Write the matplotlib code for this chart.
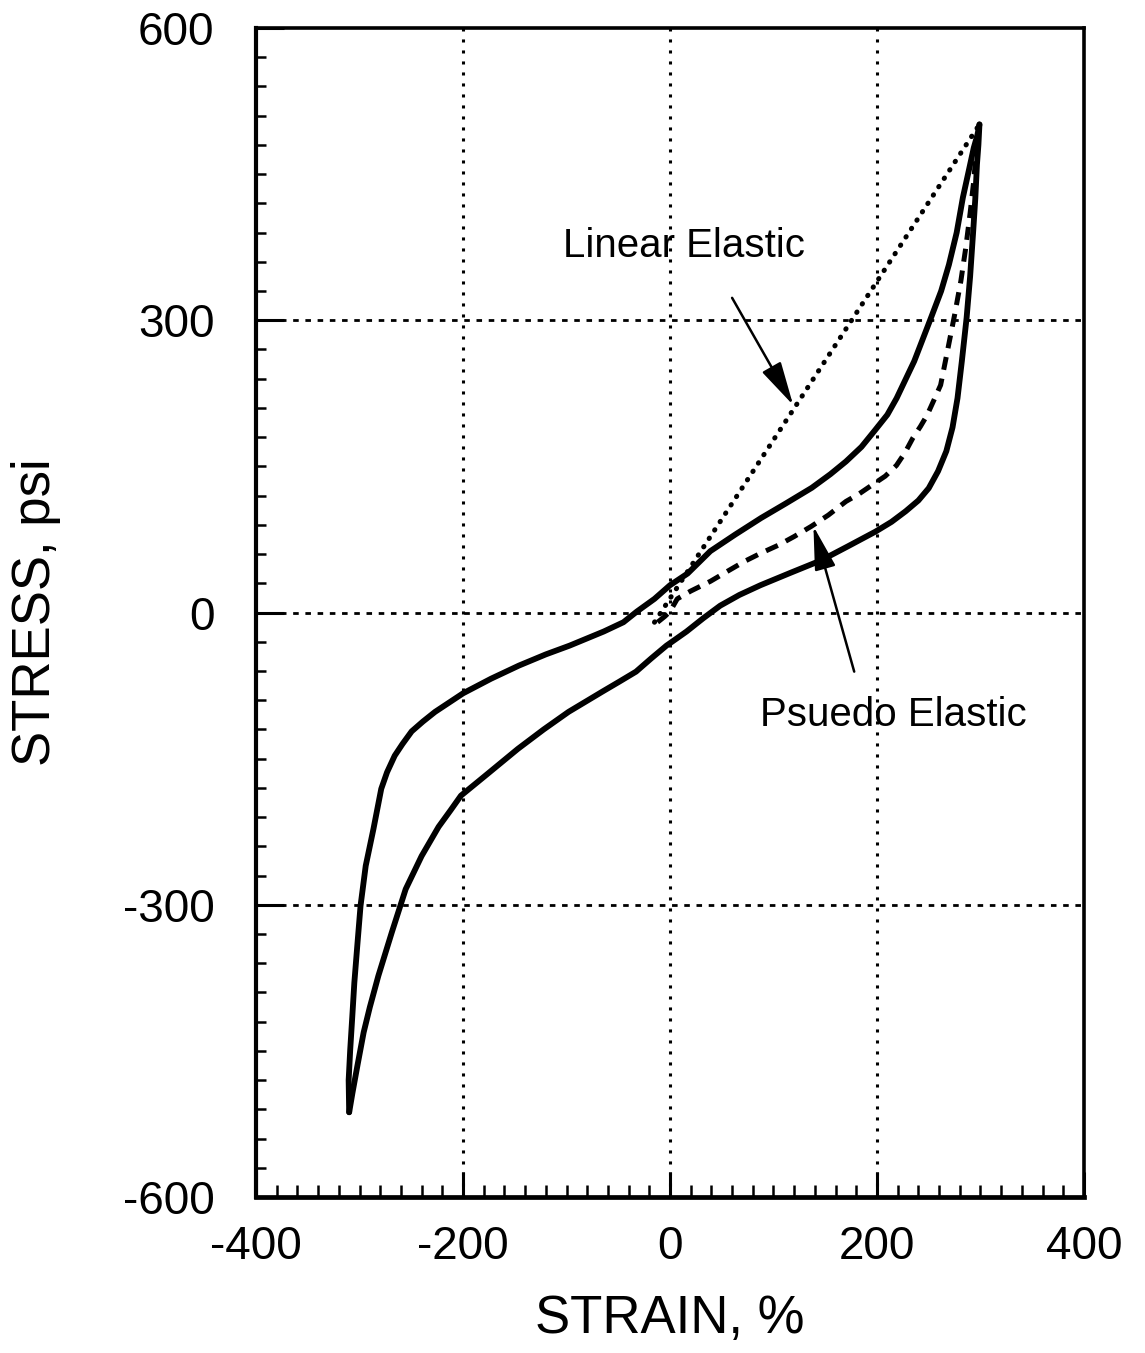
import matplotlib
matplotlib.use("Agg")
import matplotlib.pyplot as plt
from matplotlib.ticker import MultipleLocator, FixedLocator

plt.rcParams['font.family'] = ['Liberation Sans', 'DejaVu Sans']
plt.rcParams['axes.unicode_minus'] = False

# ---- data ----
upper_strain = [-310, -310.5, -309, -307, -305, -302, -299, -294, -286.5, -279, -273.4, -266,
                -258.5, -249.6, -238.8, -227, -200, -173, -146, -120, -97, -64, -45, -32,
                -15, 0, 17, 39, 63, 88, 112, 137, 155, 170, 185, 198, 210, 219, 236, 252,
                262, 269.5, 277, 283, 289, 293.5, 297, 299]
upper_stress = [-513, -480, -449, -415, -380, -340, -301, -260, -222, -181, -164, -147,
                -135, -122, -112, -102, -83, -68, -54.5, -43, -34, -19.5, -10, 1,
                14, 28, 40, 63, 80, 97, 112, 128, 142, 155, 170, 187, 203, 220, 258, 302,
                330, 357, 390, 426, 455, 477, 490, 501]

lower_strain = [299, 298, 296.6, 295, 293, 290, 286.6, 282, 277.8, 273, 267, 259, 250, 240,
                227.8, 214, 198.5, 172, 146, 117, 87.4, 67, 48.5, 32, 16, 6, -3.4, -18,
                -32.8, -49, -65, -98, -122, -147, -179, -202, -212, -223.6, -240, -255.4,
                -268.7, -281.8, -290, -296, -302, -306.8, -310]
lower_stress = [501, 480, 460, 425, 392, 345, 302.5, 258, 220, 190, 165.6, 145, 127.6, 115,
                104, 93, 83, 68, 53.5, 41, 28, 18, 7, -6, -19.5, -27, -34, -47,
                -60.7, -71, -81, -102, -120, -140, -168, -188, -203, -220, -250, -284,
                -328, -373, -405, -431, -465, -493, -513]

pseudo_strain = [-12, -5, 0, 7, 20, 39, 55, 72, 88, 104.5, 120, 136.6, 153, 170, 183, 195,
                 208, 218.8, 227, 234.6, 242, 248.5, 255, 261.5, 268, 275, 281, 285.8, 290,
                 293.5, 297, 299]
pseudo_stress = [-10, -4, 1, 14, 22, 32, 42, 52.5, 61, 69, 78, 88.5, 100, 114, 122, 130.7,
                 140, 151, 164, 179, 191, 202.7, 218, 233.5, 268, 305.5, 340, 374.5, 410,
                 443, 487.6, 501]

linear_strain = [-15, 299]
linear_stress = [-10, 501]

x_ticks = [-400, -200, 0, 200, 400]
y_ticks = [-600, -300, 0, 300, 600]
x_ticklabels = ['-400', '-200', '0', '200', '400']
y_ticklabels = ['-600', '-300', '0', '300', '600']

linear_label = "Linear Elastic"
pseudo_label = "Psuedo Elastic"

# ---- figure ----
fig = plt.figure(figsize=(11.45, 13.53), dpi=100)
ax = fig.add_axes([0.2236, 0.1153, 0.7231, 0.864])

ax.set_xlim(-400, 400)
ax.set_ylim(-600, 600)

ax.plot(upper_strain, upper_stress, color='black', lw=4.2, solid_capstyle='round',
        solid_joinstyle='round', zorder=4)
ax.plot(lower_strain, lower_stress, color='black', lw=4.2, solid_capstyle='round',
        solid_joinstyle='round', zorder=4)
ax.plot(pseudo_strain, pseudo_stress, color='black', lw=3.6, linestyle=(0, (2.6, 1.8)),
        zorder=4)
ax.plot(linear_strain, linear_stress, color='black', lw=3.6, linestyle=(0, (0.1, 1.9)),
        dash_capstyle='round', zorder=4)

# grid
ax.grid(False)
for gx in [-200, 0, 200]:
    ax.axvline(gx, color='black', lw=2.2, linestyle=(0, (1, 2.6)), zorder=2)
for gy in [-300, 0, 300]:
    ax.axhline(gy, color='black', lw=2.0, linestyle=(0, (2, 2.4)), zorder=2)

# ticks
ax.xaxis.set_major_locator(FixedLocator(x_ticks))
ax.yaxis.set_major_locator(FixedLocator(y_ticks))
ax.set_xticklabels(x_ticklabels)
ax.set_yticklabels(y_ticklabels)
ax.xaxis.set_minor_locator(MultipleLocator(20))
ax.yaxis.set_minor_locator(MultipleLocator(30))
ax.tick_params(axis='x', which='major', direction='in', length=18, width=2.2,
               labelsize=33, pad=20, top=False)
ax.tick_params(axis='x', which='minor', direction='in', length=9, width=1.8, top=False)
ax.tick_params(axis='y', which='major', direction='in', length=20, width=2.2,
               labelsize=33, pad=30, right=False)
ax.tick_params(axis='y', which='minor', direction='in', length=7, width=1.8, right=False)

for s in ax.spines.values():
    s.set_linewidth(2.6)
ax.spines['left'].set_linewidth(3.0)
ax.spines['bottom'].set_linewidth(3.4)

ax.set_xlabel("STRAIN, %", fontsize=38, labelpad=18)
ax.set_ylabel("STRESS, psi", fontsize=38, labelpad=44)

# annotations
ax.text(13, 376, linear_label, fontsize=29, ha='center', va='center')
ax.annotate('', xy=(119, 213), xytext=(60, 323),
            arrowprops=dict(arrowstyle='-|>,head_length=0.9,head_width=0.22',
                            lw=1.8, color='black', mutation_scale=30, shrinkA=0, shrinkB=0))
ax.text(216, -105, pseudo_label, fontsize=29, ha='center', va='center')
ax.annotate('', xy=(138.6, 88.5), xytext=(178, -60.7),
            arrowprops=dict(arrowstyle='-|>,head_length=0.9,head_width=0.22',
                            lw=1.8, color='black', mutation_scale=30, shrinkA=0, shrinkB=0))

fig.savefig("out.png", dpi=100)
